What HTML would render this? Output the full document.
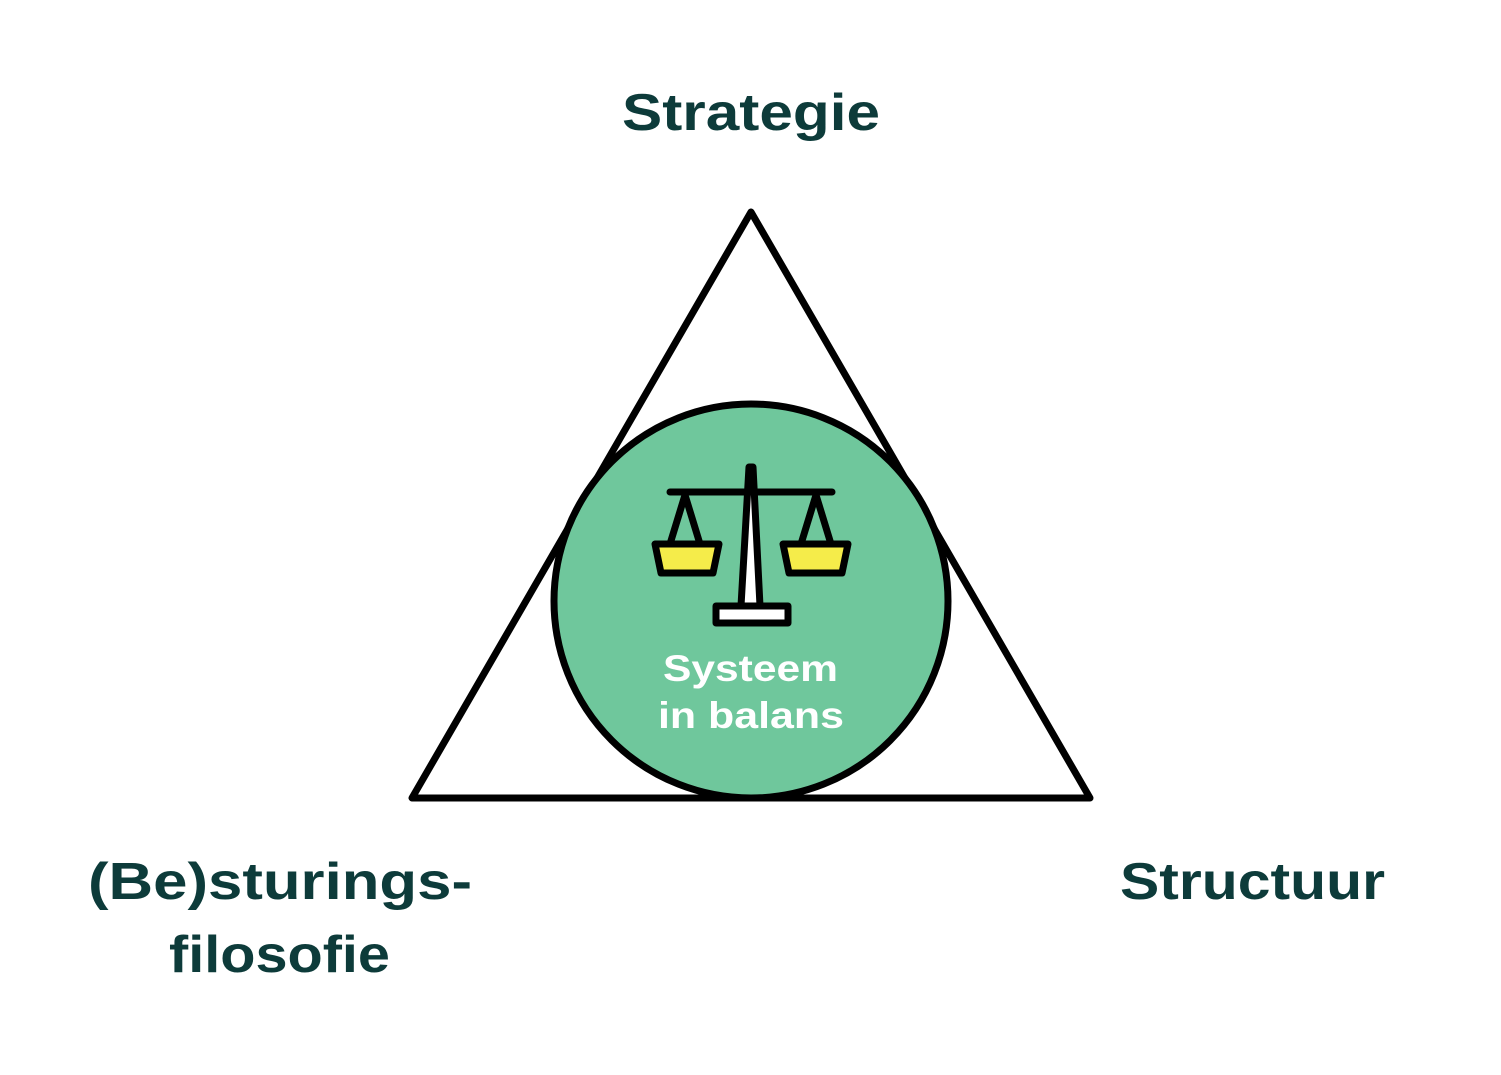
<!DOCTYPE html>
<html><head><meta charset="utf-8"><style>html,body{margin:0;padding:0;background:#fff}svg{display:block}</style></head>
<body>
<svg width="1501" height="1075" viewBox="0 0 1501 1075" xmlns="http://www.w3.org/2000/svg">
<rect width="1501" height="1075" fill="#fff"/>
<polygon points="751,212 412,798 1090,798" fill="none" stroke="#000" stroke-width="7" stroke-linejoin="round"/>
<circle cx="751" cy="601" r="197" fill="#6fc79c" stroke="#000" stroke-width="7"/>
<g stroke="#000" stroke-width="7" stroke-linejoin="round" stroke-linecap="round">
<line x1="670" y1="492" x2="832" y2="492"/>
<polyline points="670,544 685,495 700,544" fill="none"/>
<polyline points="801,544 816,495 831,544" fill="none"/>
<polygon points="655,544 719,544 713,573 661,573" fill="#f5ec4a"/>
<polygon points="783,544 848,544 842,573 789,573" fill="#f5ec4a"/>
<polygon points="749,467 753,467 760,606 741,606" fill="#fff"/>
<rect x="716" y="606" width="72" height="17" fill="#fff"/>
</g>
<g font-family="Liberation Sans, sans-serif" font-weight="bold" fill="#0d3b3a" font-size="52">
<text x="622" y="130" textLength="258" lengthAdjust="spacingAndGlyphs">Strategie</text>
<text x="1120" y="899" textLength="265" lengthAdjust="spacingAndGlyphs">Structuur</text>
<text x="88" y="899" textLength="384" lengthAdjust="spacingAndGlyphs">(Be)sturings-</text>
<text x="169" y="972" textLength="221" lengthAdjust="spacingAndGlyphs">filosofie</text>
</g>
<g font-family="Liberation Sans, sans-serif" font-weight="bold" fill="#fff" font-size="37">
<text x="663" y="681" textLength="175" lengthAdjust="spacingAndGlyphs">Systeem</text>
<text x="658" y="728" textLength="186" lengthAdjust="spacingAndGlyphs">in balans</text>
</g>
</svg>
</body></html>
